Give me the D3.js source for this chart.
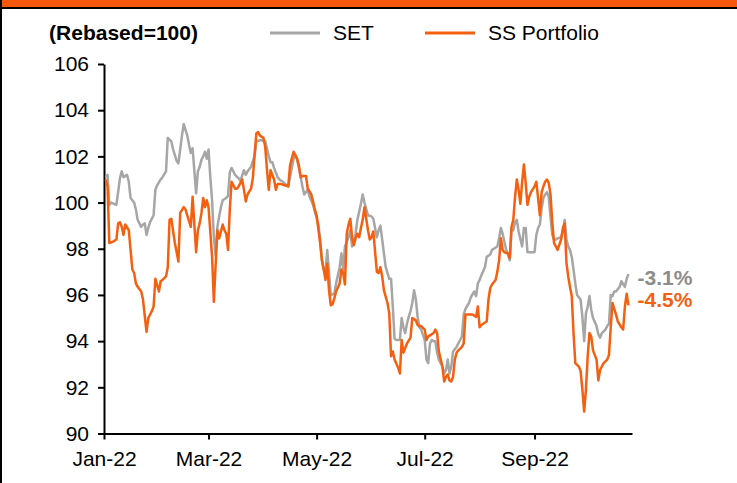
<!DOCTYPE html>
<html>
<head>
<meta charset="utf-8">
<script src="https://cdn.jsdelivr.net/npm/d3@7"></script>
<style>
    body { margin: 0; background: #fff; }
    svg { display: block; font-family: "Liberation Sans", Arial, sans-serif; }
</style>
</head>
<body>
<svg id="chart" width="737" height="483"></svg>
<script>
const startDate = new Date(2022, 0, 1);
const endDate = new Date(2022, 9, 26);

const setDays = [1,2,3,4,7,9,10,11,13,14,15,17,18,19,21,22,23,24,25,26,28,29,30,32,33,35,36,38,39,41,42,44,45,47,48,49,50,52,53,54,55,56,57,58,59,60,61,62,63,64,65,66,67,69,70,71,72,74,76,77,79,80,81,83,85,86,88,89,91,93,94,95,96,98,99,101,103,104,106,107,108,109,110,111,112,113,115,116,118,119,121,122,123,124,125,126,127,128,130,131,133,134,135,136,138,139,140,142,143,145,146,147,149,151,152,154,155,156,157,158,159,161,162,163,164,165,167,168,169,170,171,172,173,174,175,176,177,178,179,181,182,183,184,185,186,187,188,189,191,192,193,194,195,196,197,199,200,201,202,203,204,206,207,209,210,211,212,213,215,216,218,219,220,222,223,224,225,227,228,229,230,231,232,233,234,236,237,238,239,241,243,244,245,246,247,248,249,250,251,252,253,254,255,256,258,259,260,261,262,263,264,265,266,267,269,270,271,272,273,274,275,276,278,279,280,281,283,284,285,286,287,288,289,291,292,294,295,296];
const setValues = [101.1,101.2,99.9,100.0,99.9,101.05,101.35,101.1,101.2,100.9,100.2,100.0,99.7,99.25,98.95,99.05,99.1,98.6,98.9,99.15,99.45,100.55,100.75,101.0,101.1,101.35,102.8,102.65,102.3,101.8,101.7,102.9,103.4,102.9,102.5,102.15,102.35,100.4,101.35,101.55,101.85,102.0,102.2,101.9,102.3,101.1,100.1,98.5,97.7,98.95,99.4,99.8,100.1,100.2,100.3,101.3,101.5,101.2,101.05,100.95,101.4,101.2,101.35,101.55,102.0,102.65,102.7,102.7,102.65,102.0,101.75,101.75,101.5,101.1,101.0,100.9,100.75,100.7,101.5,101.9,102.05,101.85,101.5,101.1,100.7,100.35,100.55,100.25,99.9,99.6,99.05,98.4,97.5,97.1,96.95,97.95,96.95,96.0,96.05,96.5,97.2,97.8,97.1,98.1,98.5,98.8,98.1,98.65,99.25,99.95,100.35,100.0,99.45,99.4,99.3,98.5,98.8,99.0,98.4,97.8,97.2,96.7,96.7,95.5,94.1,94.05,94.05,95.0,94.6,94.35,94.75,95.05,95.3,95.65,96.2,95.8,95.05,94.6,94.5,94.05,93.2,93.05,93.9,94.05,94.0,94.0,93.5,93.2,92.9,92.6,92.75,93.2,92.6,92.9,93.55,93.75,93.9,94.05,94.2,95.15,95.4,95.65,95.9,96.15,95.95,96.5,96.65,96.85,97.2,97.65,97.75,97.95,98.0,98.1,98.45,98.9,98.65,97.95,97.75,97.5,98.8,98.8,99.15,99.25,98.75,98.1,98.9,98.9,97.85,97.85,97.85,98.6,98.9,99.05,99.75,100.2,100.35,100.45,100.25,99.4,98.6,98.4,98.4,98.45,98.5,98.75,99.25,98.4,98.1,97.95,97.65,97.1,96.5,96.0,95.8,95.05,94.0,95.2,95.5,95.95,95.35,95.0,94.65,94.3,94.15,94.35,94.5,94.65,94.75,96.0,95.95,96.15,96.15,96.35,96.6,96.35,96.7,96.9];

const ssDays = [1,2,3,5,7,8,9,10,11,12,14,15,16,17,18,19,21,22,24,25,27,28,29,31,32,33,35,36,37,38,40,42,43,45,46,47,49,50,52,53,54,55,56,57,58,59,61,62,63,64,65,67,68,69,70,71,72,74,75,76,78,79,80,81,83,84,85,86,87,88,90,91,92,93,94,96,97,98,100,102,104,105,106,107,109,110,111,112,114,115,117,118,119,120,122,123,124,125,126,127,128,129,130,131,133,134,135,136,137,138,139,140,141,142,143,144,145,146,147,148,149,150,151,152,154,155,156,157,158,160,161,162,163,164,166,167,168,169,170,171,173,174,176,177,178,179,181,182,183,184,186,187,188,189,191,192,193,194,195,196,197,198,199,200,202,203,204,205,206,208,210,211,212,213,214,216,217,218,219,221,222,223,224,225,226,228,229,230,231,232,233,234,235,236,237,238,239,240,241,243,244,245,246,247,248,249,250,251,252,253,254,255,256,258,259,260,261,262,263,264,265,266,268,269,270,271,272,273,274,275,276,278,279,280,281,282,284,285,286,287,288,289,290,292,293,294,295,296];
const ssValues = [101.0,100.7,98.25,98.3,98.4,99.1,99.15,98.95,98.6,99.05,98.8,97.95,97.1,96.95,96.5,96.35,96.15,95.8,94.4,95.0,95.3,95.5,96.7,96.15,96.6,96.65,96.8,97.2,99.25,99.3,98.25,97.45,99.55,99.8,99.7,99.45,98.95,100.25,97.85,98.8,99.1,99.55,100.2,99.8,100.1,99.8,97.65,95.7,97.3,98.8,98.45,99.05,98.8,98.65,97.95,99.7,100.9,100.6,100.6,100.7,101.0,100.55,100.05,100.35,100.6,101.05,102.1,103.0,103.05,102.9,102.8,102.4,101.4,100.55,101.4,101.0,100.55,100.8,100.8,100.75,100.7,101.6,101.9,102.2,101.9,101.6,101.1,101.15,101.15,100.6,100.35,100.05,99.7,99.45,98.25,97.5,97.1,96.65,97.35,96.2,95.55,95.6,95.85,96.15,96.5,97.1,96.95,96.45,98.65,99.05,99.3,98.5,98.15,98.45,98.65,98.5,98.9,99.25,99.8,99.3,98.8,98.4,98.5,98.75,97.0,96.95,97.2,96.8,96.2,95.65,95.2,93.35,93.55,93.2,92.85,92.6,94.05,93.5,93.7,93.9,94.15,95.0,94.9,94.7,94.65,94.65,94.5,94.05,94.2,94.25,94.35,94.5,94.35,93.55,92.9,92.25,92.45,92.55,92.3,92.25,92.45,93.2,93.5,93.6,93.75,93.9,95.15,95.15,95.15,95.15,95.05,95.5,94.6,94.7,94.75,94.85,95.8,96.3,96.45,96.65,97.0,97.5,98.45,97.95,97.85,97.8,97.6,98.95,99.25,100.25,101.0,100.55,99.95,100.9,101.65,100.85,99.9,100.25,100.45,100.7,100.9,100.2,99.45,100.45,100.7,100.9,101.0,100.85,100.35,99.15,98.25,98.1,97.95,98.4,98.9,99.1,97.4,96.8,96.35,95.95,94.35,93.05,92.9,92.7,91.9,90.95,91.9,93.35,94.35,94.2,93.6,93.2,92.3,92.75,92.9,93.05,93.2,93.4,94.6,95.65,95.4,95.15,94.85,94.6,94.5,95.5,96.05,95.55];

const seriesNames = ["SET", "SS Portfolio"];
const seriesColors = ["#a6a6a6", "#f4600f"];
const endLabels = ["-3.1%", "-4.5%"];
const endLabelColors = ["#8c8c8c", "#f4600f"];
const yTicks = [90, 92, 94, 96, 98, 100, 102, 104, 106];
const monthTicks = [new Date(2022, 0, 1), new Date(2022, 2, 1), new Date(2022, 4, 1), new Date(2022, 6, 1), new Date(2022, 8, 1)];

const svg = d3.select("#chart");

const toDate = d => d3.timeDay.offset(startDate, d);
const series = [
    setDays.map((d, i) => ({ date: toDate(d), value: setValues[i] })),
    ssDays.map((d, i) => ({ date: toDate(d), value: ssValues[i] }))
];

const x = d3.scaleTime().domain([startDate, endDate]).range([104, 632]);
const y = d3.scaleLinear().domain([90, 106]).range([433.5, 64]);

// Header bar and frame.
svg.append("rect").attr("x", 0).attr("y", 0).attr("width", 737).attr("height", 7).attr("fill", "#f4580c");
svg.append("line").attr("x1", 0).attr("x2", 737).attr("y1", 8).attr("y2", 8).attr("stroke", "#000").attr("stroke-width", 2);
svg.append("line").attr("x1", 1).attr("x2", 1).attr("y1", 0).attr("y2", 483).attr("stroke", "#000").attr("stroke-width", 2);

svg.append("text")
    .attr("x", 49)
    .attr("y", 40)
    .attr("font-size", 21)
    .attr("font-weight", "bold")
    .attr("textLength", 149)
    .attr("lengthAdjust", "spacingAndGlyphs")
    .text("(Rebased=100)");

// Legend.
const legendX = [270, 425];
const legend = svg.append("g")
    .selectAll("g")
    .data(seriesNames)
    .join("g")
    .attr("transform", (d, i) => `translate(${legendX[i]},33)`);

legend.append("line")
    .attr("x1", 0).attr("x2", 50)
    .attr("stroke", (d, i) => seriesColors[i])
    .attr("stroke-width", 3);

legend.append("text")
    .attr("x", 63)
    .attr("y", 7)
    .attr("font-size", 21)
    .text(d => d);

// Axes.
const yAxis = svg.append("g")
    .attr("transform", "translate(104,0)")
    .call(d3.axisLeft(y).tickValues(yTicks).tickSize(6).tickSizeOuter(0).tickPadding(9).tickFormat(d3.format("d")));

const xAxis = svg.append("g")
    .attr("transform", "translate(0,433.5)")
    .call(d3.axisBottom(x).tickValues(monthTicks).tickSize(6).tickSizeOuter(0).tickPadding(12).tickFormat(d3.timeFormat("%b-%y")));

[yAxis, xAxis].forEach(axis => {
    axis.select(".domain").attr("stroke", "#000").attr("stroke-width", 2);
    axis.selectAll(".tick line").attr("stroke", "#000").attr("stroke-width", 2);
    axis.selectAll(".tick text")
        .attr("fill", "#000")
        .attr("font-size", 21)
        .attr("font-family", "\"Liberation Sans\", Arial, sans-serif");
});

// Lines.
const line = d3.line()
    .x(d => x(d.date))
    .y(d => y(d.value));

svg.append("g")
    .selectAll("path")
    .data(series)
    .join("path")
    .attr("d", line)
    .attr("fill", "none")
    .attr("stroke", (d, i) => seriesColors[i])
    .attr("stroke-width", 2.5)
    .attr("stroke-linejoin", "round");

// End-of-period labels.
const labelOffsets = [11, 1.5];
svg.append("g")
    .selectAll("text")
    .data(series)
    .join("text")
    .attr("x", d => x(d[d.length - 1].date) + 9)
    .attr("y", (d, i) => y(d[d.length - 1].value) + labelOffsets[i])
    .attr("font-size", 21)
    .attr("font-weight", "bold")
    .attr("fill", (d, i) => endLabelColors[i])
    .text((d, i) => endLabels[i]);
</script>
</body>
</html>
